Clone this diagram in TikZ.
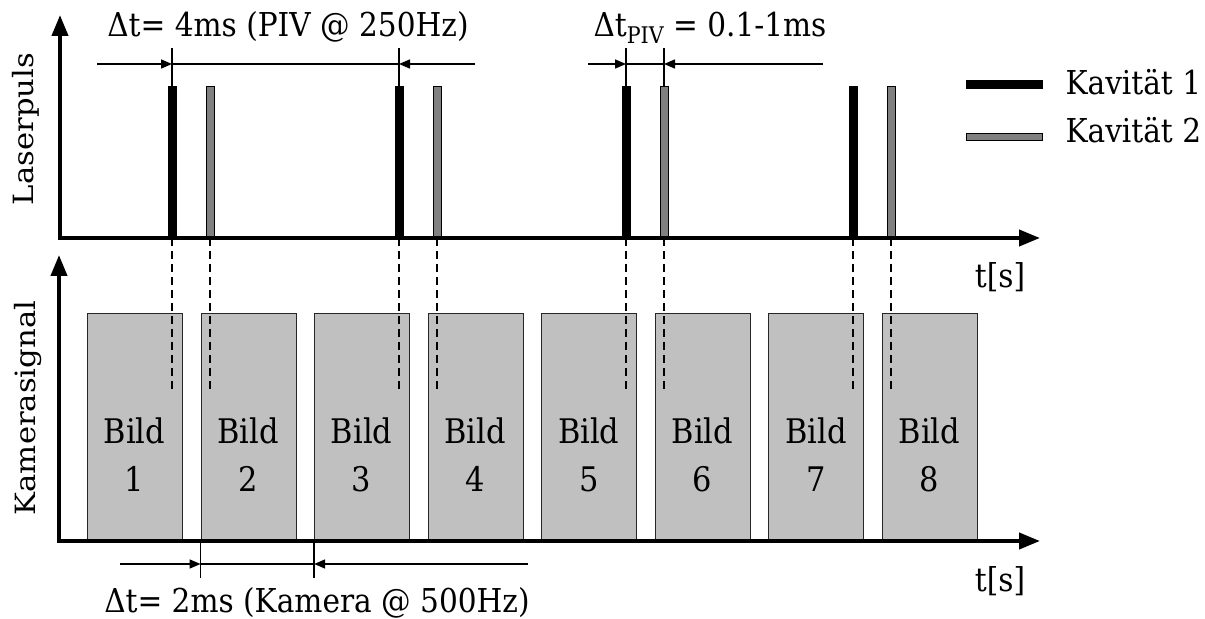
\documentclass[tikz,border=0pt]{standalone}
\usepackage{fontspec}
\setmainfont[FakeStretch=0.9]{DejaVu Serif}
\newfontfamily\axisfont[FakeStretch=1.1]{DejaVu Serif}
\usetikzlibrary{arrows.meta}
\definecolor{pulsegray}{RGB}{128,128,128}
\definecolor{framegray}{RGB}{192,192,192}
\tikzset{
    axis/.style={line width=4bp, line join=miter,
        {Triangle[length=21bp,width=16bp]}-{Triangle[length=21bp,width=16bp]}},
    axislabel/.style={rotate=90, font=\axisfont\fontsize{28}{32}\selectfont},
    pulseone/.style={rectangle, fill=black, draw=black, line width=0.8bp,
        inner sep=0pt, minimum width=8bp, minimum height=151bp, anchor=south},
    pulsetwo/.style={pulseone, fill=pulsegray},
    bildbox/.style={rectangle, fill=framegray, draw=black!85, line width=0.9bp,
        inner sep=0pt, minimum width=95bp, minimum height=227bp, anchor=south west},
    bildtext/.style={align=center, font=\fontsize{34}{48}\selectfont},
    marker/.style={line width=2bp, dash pattern=on 8bp off 5bp},
    dimline/.style={line width=1.5bp},
    dimarrow/.style={dimline, -{Triangle[length=11bp,width=9bp]}}
}

\begin{document}
\begin{tikzpicture}[x=1bp, y=-1bp, font=\fontsize{33}{38}\selectfont]
    \useasboundingbox (0,0) rectangle (1205,619);

    % Kamerabilder
    \foreach \i in {1,...,8}{
        \node[bildbox] (b\i) at ({87+(\i-1)*113.57},541) {};
        \node[bildtext] (bt\i) at ({134.5+(\i-1)*113.57},455) {Bild\\\i};
    }

    % Laserpulse der beiden Kavitaeten
    \foreach \k in {1,...,4}{
        \node[pulseone] (p\k) at ({172+(\k-1)*227},238) {};
        \node[pulsetwo] (q\k) at ({210+(\k-1)*227},238) {};
        \draw[marker] (p\k.south) -- ++(0,152);
        \draw[marker] (q\k.south) -- ++(0,152);
    }

    % Achsen
    \coordinate (ytop) at (60,15);
    \coordinate (xtop) at (1040,238);
    \coordinate (ybot) at (59,255);
    \coordinate (xbot) at (1040,541);
    \draw[axis] (ytop) |- (xtop);
    \draw[axis] (ybot) |- (xbot);

    \node[anchor=base] (ttop) at (1000,288) {t[s]};
    \node[anchor=base] (tbot) at (1000,591) {t[s]};
    \node[axislabel] (lp) at (26,129) {Laserpuls};
    \node[axislabel] (ks) at (28,408) {Kamerasignal};

    % Bemassung PIV-Frequenz
    \coordinate (a0) at (97,64);
    \coordinate (a3) at (475,64);
    \draw[dimline] (p1.north) -- ++(0,-38);
    \draw[dimline] (p2.north) -- ++(0,-38);
    \draw[dimarrow] (a0) -- (p1.north |- a0);
    \draw[dimline] (p1.north |- a0) -- (p2.north |- a0);
    \draw[dimarrow] (a3) -- (p2.north |- a0);
    \node[anchor=base] (dtlaser) at (288,37) {Δt= 4ms (PIV @ 250Hz)};

    % Bemassung Pulsabstand
    \coordinate (c0) at (588,64);
    \coordinate (c3) at (823,64);
    \draw[dimline] (p3.north) -- ++(0,-38);
    \draw[dimline] (q3.north) -- ++(0,-38);
    \draw[dimarrow] (c0) -- (p3.north |- c0);
    \draw[dimline] (p3.north |- c0) -- (q3.north |- c0);
    \draw[dimarrow] (c3) -- (q3.north |- c0);
    \node[anchor=base] (dtpiv) at (710,37)
        {Δt\raisebox{-0.2em}{\fontsize{23}{23}\selectfont PIV} = 0.1-1ms};

    % Bemassung Kamerafrequenz
    \coordinate (k0) at (120,564);
    \coordinate (k3) at (528,564);
    \draw[dimline] (b2.south west) -- ++(0,37);
    \draw[dimline] (b3.south west) -- ++(0,37);
    \draw[dimarrow] (k0) -- (b2.south west |- k0);
    \draw[dimline] (b2.south west |- k0) -- (b3.south west |- k0);
    \draw[dimarrow] (k3) -- (b3.south west |- k0);
    \node[anchor=base] (dtcam) at (317,612) {Δt= 2ms (Kamera @ 500Hz)};

    % Legende
    \node[pulseone, anchor=center, minimum width=76bp, minimum height=8bp] (leg1) at (1004,84.5) {};
    \node[pulsetwo, anchor=center, minimum width=76bp, minimum height=7bp] (leg2) at (1004,137) {};
    \node[anchor=base west] (kav1) at (1062,95) {Kavität 1};
    \node[anchor=base west] (kav2) at (1062,143) {Kavität 2};
\end{tikzpicture}
\end{document}
